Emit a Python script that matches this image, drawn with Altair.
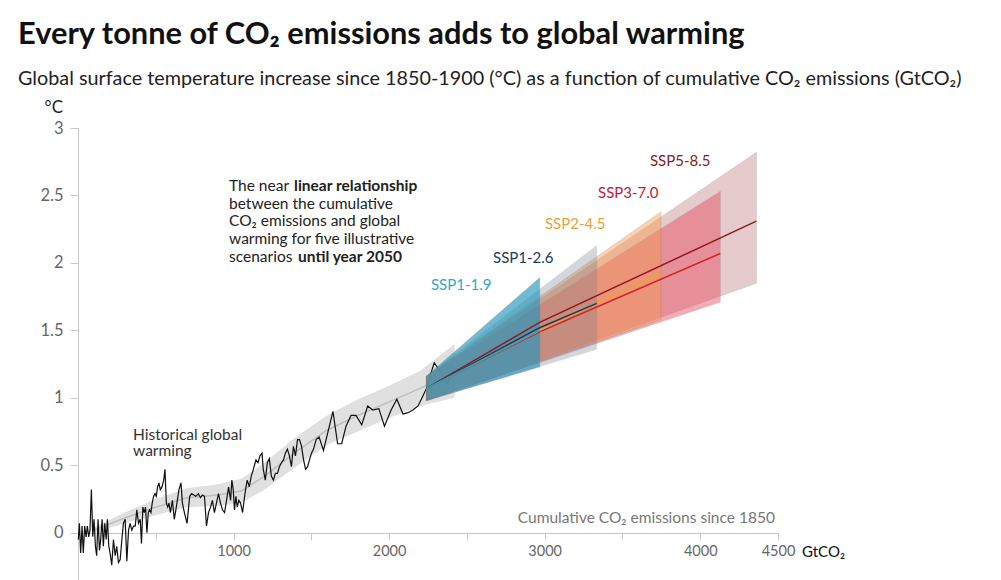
import altair as alt
import pandas as pd

FONT = "Lato"

# ---------------- historical observations (cumulative GtCO2, degC) ----------------
hist_E = [2, 9, 17, 26, 34, 43, 52, 60, 69, 77, 86, 95, 103, 112, 120, 129, 138, 146, 155, 163,
          172, 181, 189, 198, 206, 217, 228, 239, 249, 260, 271, 282, 292, 303, 314, 325, 335, 346,
          357, 368, 378, 389, 400, 408, 417, 426, 434, 443, 452, 460, 469, 477, 486, 495, 503, 512,
          520, 529, 540, 551, 559, 568, 577, 585, 594, 607, 619, 632, 649, 662, 671, 684, 701, 718,
          731, 744, 757, 774, 787, 800, 813, 826, 839, 852, 864, 877, 890, 903, 916, 929, 942, 955,
          968, 981, 989, 998, 1006, 1015, 1024, 1034, 1045, 1058, 1071, 1080, 1088, 1101, 1114,
          1127, 1144, 1157, 1170, 1183, 1191, 1204, 1217, 1230, 1243, 1256, 1269, 1282, 1295, 1308,
          1321, 1333, 1346, 1359, 1372, 1385, 1398, 1411, 1424, 1437, 1450, 1463, 1476, 1488, 1501,
          1514, 1531, 1550, 1578, 1639, 1669, 1695, 1723, 1755, 1787, 1824, 1862, 1895, 1934, 1970,
          2013, 2050, 2089, 2121, 2153, 2186, 2212, 2240, 2268, 2290, 2320, 2348, 2372, 2401, 2419]
hist_T = [-0.05, 0.07, -0.15, 0.05, -0.15, 0.05, -0.03, 0.05, -0.03, 0.02, 0.32, -0.03, 0.10, -0.10,
          -0.17, 0.10, -0.13, -0.05, 0.10, -0.10, 0.07, -0.05, 0.10, -0.10, -0.15, -0.24, -0.05,
          -0.17, -0.10, -0.22, -0.20, -0.05, 0.07, 0.10, -0.21, 0.02, 0.07, 0.02, 0.05, 0.05, 0.17,
          0.07, 0.10, -0.08, 0.19, 0.15, 0.19, 0.00, 0.15, 0.17, 0.15, 0.22, 0.27, 0.29, 0.27, 0.34,
          0.37, 0.32, 0.34, 0.39, 0.47, 0.22, 0.19, 0.22, 0.15, 0.24, 0.10, 0.19, 0.32, 0.37, 0.22,
          0.15, 0.07, 0.27, 0.29, 0.28, 0.27, 0.29, 0.26, 0.28, 0.27, 0.05, 0.15, 0.19, 0.24, 0.15,
          0.22, 0.29, 0.22, 0.17, 0.15, 0.24, 0.34, 0.24, 0.39, 0.32, 0.17, 0.27, 0.19, 0.24, 0.22,
          0.15, 0.27, 0.34, 0.39, 0.34, 0.42, 0.47, 0.54, 0.52, 0.57, 0.59, 0.47, 0.39, 0.52, 0.55,
          0.42, 0.39, 0.44, 0.44, 0.49, 0.52, 0.54, 0.59, 0.62, 0.57, 0.49, 0.64, 0.57, 0.69, 0.69,
          0.64, 0.54, 0.47, 0.49, 0.54, 0.59, 0.62, 0.69, 0.71, 0.61, 0.90, 0.66, 0.66, 0.79, 0.87,
          0.87, 0.80, 0.94, 0.91, 0.92, 0.79, 0.91, 0.99, 0.88, 0.89, 0.91, 0.94, 1.00, 1.07, 1.18,
          1.26, 1.21, 1.16, 1.10, 1.17, 1.22]

# ---------------- historical best estimate and its range ----------------
band_E = [100, 300, 500, 700, 900, 1050, 1200, 1400, 1600, 1800, 2000, 2200, 2420]
band_mid = [0.02, 0.11, 0.19, 0.26, 0.28, 0.31, 0.42, 0.60, 0.76, 0.87, 0.97, 1.07, 1.19]
band_lo = [0.00, 0.07, 0.13, 0.19, 0.20, 0.22, 0.32, 0.49, 0.65, 0.75, 0.85, 0.94, 1.00]
band_hi = [0.04, 0.15, 0.25, 0.33, 0.36, 0.40, 0.52, 0.71, 0.87, 0.99, 1.09, 1.20, 1.40]

# ---------------- scenarios until 2050 (drawn bottom -> top) ----------------
scen_names = ["SSP5-8.5", "SSP3-7.0", "SSP2-4.5", "SSP1-2.6", "SSP1-1.9"]
scen_start_E = 2240
scen_start_lo = 0.98
scen_start_hi = 1.16
scen_start_mid = 1.07
scen_check_E = 2968
scen_check_mid = [1.56, 1.49, 1.50, 1.52, 1.50]
scen_end_E = [4361, 4129, 3748, 3335, 2968]
scen_end_lo = [1.85, 1.71, 1.58, 1.36, 1.23]
scen_end_hi = [2.82, 2.53, 2.38, 2.13, 1.89]
scen_end_mid = [2.31, 2.07, 1.92, 1.70, 1.50]
scen_line_color = ["#8c1a1c", "#d0262b", "#f0a035", "#1b3a5c", "#27a6c4"]
scen_fill_color = ["#c98d8f", "#e8475a", "#f59c52", "#707a8c", "#2596bd"]
scen_fill_opacity = [0.45, 0.45, 0.45, 0.30, 0.65]
scen_label_color = ["#8c1a1c", "#c5202c", "#e8a23a", "#1d3a5c", "#2eaac6"]
scen_label_E = [3677, 3343, 3002, 2668, 2269]
scen_label_T = [2.756, 2.519, 2.289, 2.037, 1.837]

# ---------------- annotation texts ----------------
ann_E = 971
ann_T = [2.571, 2.440, 2.308, 2.177, 2.044]
ann_normal = ["The near", "between the cumulative", "CO₂ emissions and global",
              "warming for five illustrative", "scenarios"]
ann_bold = ["linear relationship", "", "", "", "until year 2050"]
ann_bold_dx = [65, 0, 0, 0, 69]

hist_label = ["Historical global", "warming"]
hist_label_E = 354
hist_label_T = [0.725, 0.605]

x_ticks = [500, 1000, 1500, 2000, 2500, 3000, 3500, 4000, 4500]
x_labelled = [1000, 2000, 3000, 4000, 4500]
y_ticks = [0, 0.5, 1, 1.5, 2, 2.5, 3]

AX = "#c8c8c8"
TXT = 15.5
x_axis = alt.Axis(values=x_ticks,
                  labelExpr="indexof([" + ",".join(str(v) for v in x_labelled) + "], datum.value) >= 0 ? format(datum.value, 'd') : ''",
                  offset=-47, tickSize=7, tickColor=AX, domainColor=AX, labelColor="#666",
                  labelFont=FONT, labelFontSize=14.5, labelPadding=4, grid=False, title=None,
                  labelFlush=False)
y_axis = alt.Axis(values=y_ticks, format="~g", tickSize=8, tickColor=AX, domainColor=AX,
                  labelColor="#666", labelFont=FONT, labelFontSize=16.5, labelPadding=7,
                  grid=False, title=None)
xs = alt.Scale(domain=[0, 4500], nice=False, zero=False)
ys = alt.Scale(domain=[-0.35, 3], nice=False, zero=False)


def X(f):
    return alt.X(f + ":Q", scale=xs, axis=x_axis)


def Y(f):
    return alt.Y(f + ":Q", scale=ys, axis=y_axis, stack=None)


layers = []

# historical range band + central estimate
band_df = pd.DataFrame({"E": band_E, "lo": band_lo, "hi": band_hi, "mid": band_mid})
layers.append(alt.Chart(band_df).mark_area(color="#d6d6d6", opacity=0.75).encode(
    x=X("E"), y=Y("lo"), y2="hi"))
layers.append(alt.Chart(band_df).mark_line(color="#bdbdbd", strokeWidth=1.5).encode(
    x=X("E"), y=Y("mid")))

# historical observations
hist_df = pd.DataFrame({"E": hist_E, "T": hist_T})
layers.append(alt.Chart(hist_df).mark_line(color="#111111", strokeWidth=1.2).encode(
    x=X("E"), y=Y("T")))

# scenario ranges
for i, name in enumerate(scen_names):
    df = pd.DataFrame({"E": [scen_start_E, scen_end_E[i]],
                       "lo": [scen_start_lo, scen_end_lo[i]],
                       "hi": [scen_start_hi, scen_end_hi[i]],
                       "scenario": [name, name]})
    layers.append(alt.Chart(df).mark_area(
        color=scen_fill_color[i], opacity=scen_fill_opacity[i],
        stroke="#6e6e6e", strokeWidth=0.7, strokeOpacity=0.7).encode(
        x=X("E"), y=Y("lo"), y2="hi"))

# scenario central lines
for i, name in enumerate(scen_names):
    Es = [scen_start_E, scen_check_E] + ([scen_end_E[i]] if scen_end_E[i] > scen_check_E else [])
    Ts = [scen_start_mid, scen_check_mid[i]] + ([scen_end_mid[i]] if scen_end_E[i] > scen_check_E else [])
    df = pd.DataFrame({"E": Es, "T": Ts, "scenario": [name] * len(Es)})
    layers.append(alt.Chart(df).mark_line(color=scen_line_color[i], strokeWidth=1.5).encode(
        x=X("E"), y=Y("T")))

# scenario labels
for i, name in enumerate(scen_names):
    df = pd.DataFrame({"E": [scen_label_E[i]], "T": [scen_label_T[i]], "label": [name]})
    layers.append(alt.Chart(df).mark_text(
        align="left", baseline="middle", font=FONT, fontSize=15, color=scen_label_color[i]).encode(
        x=X("E"), y=Y("T"), text="label:N"))

# annotation block
ann_df = pd.DataFrame({"E": [ann_E] * len(ann_T), "T": ann_T, "txt": ann_normal})
layers.append(alt.Chart(ann_df).mark_text(
    align="left", baseline="middle", font=FONT, fontSize=TXT, color="#222222").encode(
    x=X("E"), y=Y("T"), text="txt:N"))
for i, b in enumerate(ann_bold):
    if b:
        df = pd.DataFrame({"E": [ann_E], "T": [ann_T[i]], "txt": [b]})
        layers.append(alt.Chart(df).mark_text(
            align="left", baseline="middle", font=FONT, fontSize=TXT, fontWeight="bold",
            color="#222222", dx=ann_bold_dx[i]).encode(
            x=X("E"), y=Y("T"), text="txt:N"))

hl_df = pd.DataFrame({"E": [hist_label_E] * 2, "T": hist_label_T, "txt": hist_label})
layers.append(alt.Chart(hl_df).mark_text(
    align="left", baseline="middle", font=FONT, fontSize=TXT, color="#333333").encode(
    x=X("E"), y=Y("T"), text="txt:N"))

cum_df = pd.DataFrame({"E": [4480], "T": [0.11], "txt": ["Cumulative CO₂ emissions since 1850"]})
layers.append(alt.Chart(cum_df).mark_text(
    align="right", baseline="middle", font=FONT, fontSize=TXT, color="#777777").encode(
    x=X("E"), y=Y("T"), text="txt:N"))

# titles and unit labels (placed in the padding around the plot)
def ptext(txt, x, y, size, color, weight="normal", align="left", baseline="alphabetic"):
    return alt.Chart(pd.DataFrame({"txt": [txt]})).mark_text(
        align=align, baseline=baseline, font=FONT, fontSize=size, fontWeight=weight,
        color=color).encode(x=alt.value(x), y=alt.value(y), text="txt:N")


layers.append(ptext("Every tonne of CO₂ emissions adds to global warming", -60, -84, 30.8,
                    "#111111", weight="bold"))
layers.append(ptext("Global surface temperature increase since 1850-1900 (°C) as a function of "
                    "cumulative CO₂ emissions (GtCO₂)", -60, -43, 19.8, "#222222"))
layers.append(ptext("°C", -15, -20, 17, "#222222", align="right", baseline="middle"))
layers.append(ptext("GtCO₂", 724, 424, 15, "#111111", baseline="middle"))

chart = alt.layer(*layers).properties(
    width=700, height=452,
    padding={"left": 70, "top": 120, "right": 215, "bottom": 0},
    autosize=alt.AutoSizeParams(type="none"),
    background="white",
).configure_view(stroke=None)

chart.save("out.html", embed_options={"renderer": "svg", "actions": False})
